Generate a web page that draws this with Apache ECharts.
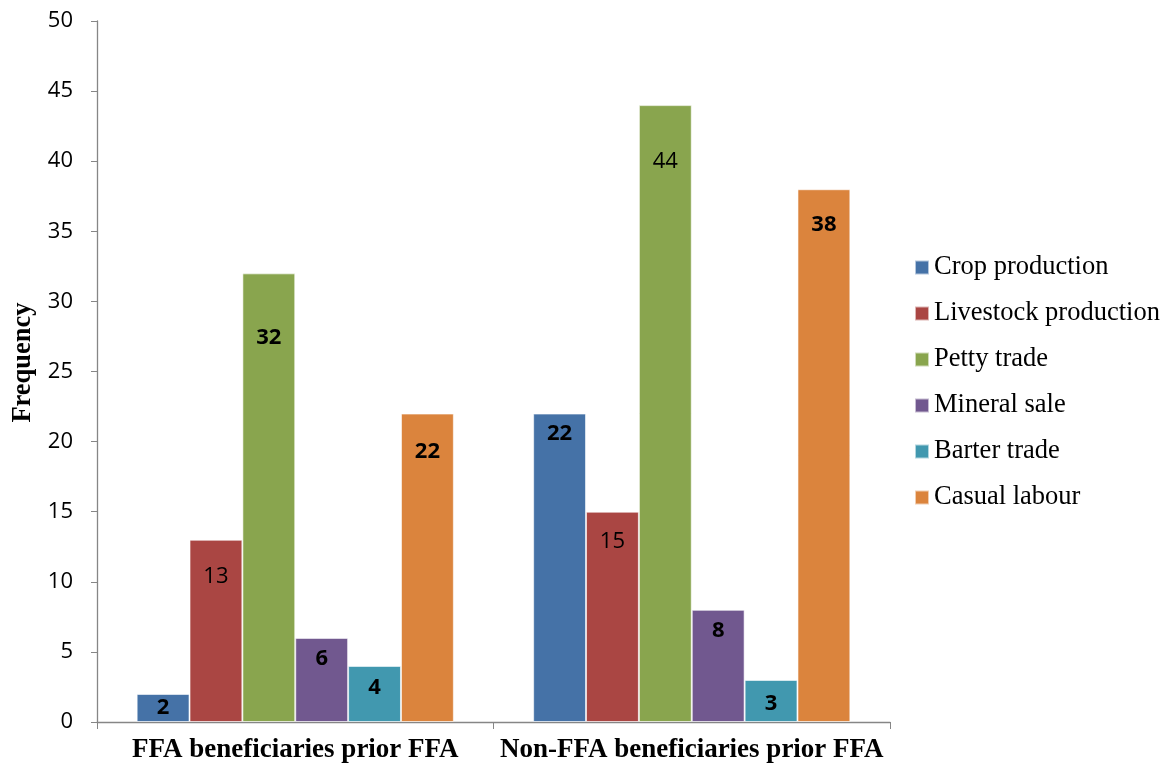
<!DOCTYPE html>
<html><head><meta charset="utf-8">
<script src="https://cdn.jsdelivr.net/npm/echarts@6/dist/echarts.min.js"></script>
<style>html,body{margin:0;padding:0;background:#fff}#c{width:1168px;height:770px}</style>
</head><body><div id="c"></div>
<script>
const categories = ["FFA beneficiaries prior FFA", "Non-FFA beneficiaries prior FFA"];
const seriesNames = ["Crop production", "Livestock production", "Petty trade", "Mineral sale", "Barter trade", "Casual labour"];
const cropProduction = [2, 22];
const livestockProduction = [13, 15];
const pettyTrade = [32, 44];
const mineralSale = [6, 8];
const barterTrade = [4, 3];
const casualLabour = [22, 38];
const yTicks = [0, 5, 10, 15, 20, 25, 30, 35, 40, 45, 50];

const values = [cropProduction, livestockProduction, pettyTrade, mineralSale, barterTrade, casualLabour];
const colors = ["#4572A7", "#AA4643", "#89A54E", "#71588F", "#4198AF", "#DB843D"];
// label styling (distance below bar top, bold or not) per series/category
const labelDist = [[3, 9], [26, 19], [53, 46], [10, 10], [11, 13], [27, 24]];
const labelBold = [[true, true], [false, false], [true, false], [true, true], [true, true], [true, true]];

const chart = echarts.init(document.getElementById('c'));
chart.setOption({
  animation: false,
  color: colors,
  grid: {left: 97, right: 278, top: 21, bottom: 48, containLabel: false, outerBoundsMode: 'none'},
  legend: {
    orient: 'vertical', left: 909, top: 249,
    itemWidth: 14, itemHeight: 14, itemGap: 19,
    icon: 'rect',
    textStyle: {fontFamily: 'Liberation Serif', fontSize: 26.5, color: '#000', lineHeight: 26, padding: [0,0,0,0]},
    data: seriesNames
  },
  xAxis: {
    type: 'category', data: categories,
    axisLine: {lineStyle: {color: '#868686', width: 1.3}},
    axisTick: {show: true, length: 7, lineStyle: {color: '#868686'}},
    axisLabel: {interval: 0, fontFamily: 'Liberation Serif', fontWeight: 'bold', fontSize: 27, color: '#000', margin: 15}
  },
  yAxis: {
    type: 'value', min: yTicks[0], max: yTicks[yTicks.length-1], interval: 5,
    name: 'Frequency', nameLocation: 'middle', nameGap: 59, nameRotate: 90,
    nameTextStyle: {fontFamily: 'Liberation Serif', fontWeight: 'bold', fontSize: 26.5, color: '#000', padding: [0, 0, 0, 18]},
    axisLine: {show: true, lineStyle: {color: '#868686', width: 1.3}},
    axisTick: {show: true, length: 6, lineStyle: {color: '#868686'}},
    splitLine: {show: false},
    axisLabel: {fontFamily: 'Open Sans', fontSize: 22, color: '#000', margin: 24}
  },
  series: seriesNames.map((name, i) => ({
    name, type: 'bar',
    barGap: '0%', barCategoryGap: '20%',
    itemStyle: {borderColor: 'rgba(255,255,255,0.6)', borderWidth: 1},
    label: {show: true, position: 'insideTop', fontFamily: 'Open Sans', fontSize: 22, color: '#000'},
    data: values[i].map((v, j) => ({
      value: v,
      label: {distance: labelDist[i][j], fontWeight: labelBold[i][j] ? 'bold' : 'normal'}
    }))
  }))
});
</script></body></html>
